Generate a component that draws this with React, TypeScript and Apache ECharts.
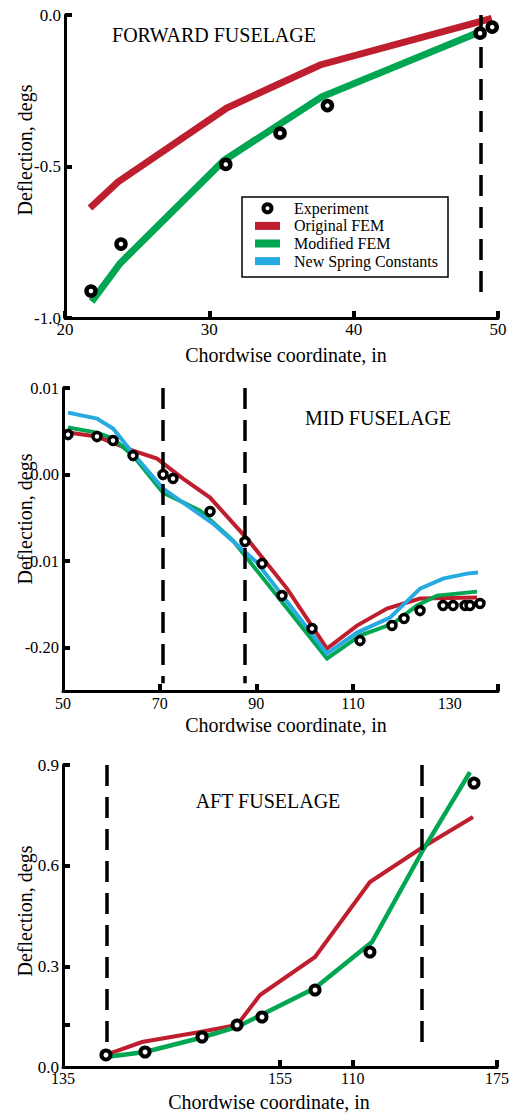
import React, { useEffect, useRef } from "react";
import * as echarts from "echarts";

const FONT = "'Liberation Serif', 'Times New Roman', serif";
const RED = "#BE1E2D";
const GREEN = "#00A651";
const BLUE = "#27AAE1";

// ---------- FORWARD FUSELAGE ----------
const fwdOriginal = [
  [21.73, -0.637], [23.67, -0.551], [31.2, -0.307], [37.67, -0.165], [49.57, -0.011],
];
const fwdModified = [
  [21.85, -0.946], [23.81, -0.82], [31.0, -0.48], [37.79, -0.27], [48.76, -0.055],
];
const fwdExperiment = [
  [21.8, -0.911], [23.88, -0.756], [31.14, -0.493], [34.9, -0.39], [38.18, -0.299], [48.76, -0.06], [49.6, -0.04],
];
const fwdDashX = [48.8];
const fwdXTicks = [20, 30, 40, 50];
const fwdYTicks = [-1.0, -0.5, 0.0];
const fwdYLabels = ["-1.0", "-0.5", "0.0"];

// ---------- MID FUSELAGE ----------
const midOriginal = [
  [51.03, 0.00485], [57.03, 0.00439], [64.48, 0.00277], [69.45, 0.00185], [74.83, -0.00046],
  [80.42, -0.00266], [88.07, -0.00739], [96.35, -0.01317], [104.62, -0.0201], [110.83, -0.01744],
  [117.04, -0.01548], [123.87, -0.01432], [135.66, -0.01421],
];
const midModified = [
  [51.03, 0.00543], [57.03, 0.00485], [60.35, 0.00416], [64.48, 0.00219], [70.69, -0.00208],
  [78.35, -0.00416], [85.17, -0.00762], [104.62, -0.02125], [111.45, -0.0186], [118.28, -0.01721],
  [123.25, -0.01513], [127.38, -0.01398], [135.66, -0.01352],
];
const midSpring = [
  [51.03, 0.00716], [57.03, 0.00647], [60.35, 0.00531], [64.48, 0.00243], [70.69, -0.00162],
  [81.04, -0.00566], [90.14, -0.01017], [104.62, -0.02068], [110.83, -0.01825], [117.66, -0.01652],
  [123.87, -0.01317], [128.63, -0.01201], [133.6, -0.01144], [135.87, -0.01132],
];
const midExperiment = [
  [51.03, 0.00462], [57.03, 0.00439], [60.35, 0.00393], [64.48, 0.00219], [70.69, 0.0],
  [72.76, -0.00046], [80.42, -0.00427], [87.66, -0.00774], [91.18, -0.01028], [95.31, -0.01398],
  [101.52, -0.01779], [111.45, -0.01918], [118.07, -0.01744], [120.56, -0.01663], [123.87, -0.01571],
  [128.63, -0.01513], [130.7, -0.01513], [133.18, -0.01513], [134.2, -0.01513], [136.28, -0.0149],
];
const midDashX = [70.7, 87.7];
const midXLabelValues = [50, 70, 90, 110, 130];
const midXTickValues = [70, 90, 110, 140];
const midYTicks = [0.01, 0.0, -0.01, -0.02];
const midYLabels = ["0.01", "0.00", "-0.01", "-0.20"];

// ---------- AFT FUSELAGE ----------
const aftOriginal = [
  [138.96, 0.0358], [142.28, 0.0745], [147.63, 0.1043], [151.04, 0.1251], [153.16, 0.2145],
  [158.23, 0.3278], [163.29, 0.5513], [168.18, 0.6555], [172.79, 0.745],
];
const aftModified = [
  [138.96, 0.0298], [142.56, 0.0447], [147.63, 0.0864], [151.04, 0.1192], [158.23, 0.2354],
  [163.48, 0.3725], [168.18, 0.6466], [172.51, 0.879],
];
const aftExperiment = [
  [138.96, 0.0358], [142.56, 0.0447], [147.81, 0.0894], [151.04, 0.1251], [153.34, 0.149],
  [158.23, 0.2294], [163.29, 0.3427], [172.88, 0.8462],
];
const aftDashX = [139.06, 168.09];
const aftXLabelValues = [135, 155, 161.7, 175];
const aftXLabels = ["135", "155", "110", "175"];
const aftXTickValues = [155, 161.7, 175];
const aftYLabelValues = [0.0, 0.3, 0.6, 0.9];
const aftYLabels = ["0.0", "0.3", "0.6", "0.9"];
const aftYTickValues = [0.125, 0.3, 0.6, 0.9];

function lookup(values: number[], labels: string[], v: number) {
  const i = values.findIndex((t) => Math.abs(t - v) < 1e-6);
  return i >= 0 ? labels[i] : "";
}

function baseAxis(fontSize: number, margin: number) {
  return {
    type: "value" as const,
    axisLine: { show: true, onZero: false, lineStyle: { color: "#000", width: 3 } },
    axisTick: { show: true, inside: true, length: 7, lineStyle: { color: "#000", width: 4 } },
    splitLine: { show: false },
    axisLabel: { color: "#000", fontFamily: FONT, fontSize, margin },
  };
}

function dashLines(xs: number[], y0: number, y1: number) {
  return {
    silent: true,
    symbol: ["none", "none"],
    label: { show: false },
    lineStyle: { color: "#000", width: 3.5, type: [21, 11] },
    data: xs.map((x) => [{ coord: [x, y0] }, { coord: [x, y1] }]),
  };
}

function lineSeries(name: string, data: number[][], color: string, width: number, idx: number, markLine?: any) {
  return {
    name,
    type: "line",
    xAxisIndex: idx,
    yAxisIndex: idx,
    data,
    showSymbol: false,
    symbol: "none",
    color,
    lineStyle: { color, width, cap: "butt", join: "miter" },
    z: 2,
    ...(markLine ? { markLine } : {}),
  };
}

function scatterSeries(data: number[][], idx: number, size: number, border: number) {
  return {
    name: "Experiment",
    type: "scatter",
    xAxisIndex: idx,
    yAxisIndex: idx,
    data,
    symbol: "circle",
    symbolSize: size,
    itemStyle: { color: "#fff", borderColor: "#000", borderWidth: border, opacity: 1 },
    z: 5,
  };
}

function text(t: string, x: number, y: number, size: number, rotate = 0) {
  return {
    type: "text",
    x,
    y,
    rotation: rotate,
    style: {
      text: t,
      font: `${size}px ${FONT}`,
      fill: "#000",
      align: "center",
      verticalAlign: "middle",
    },
  };
}

export default function App() {
  const ref = useRef<HTMLDivElement>(null);
  useEffect(() => {
    if (!ref.current) return;
    const chart = echarts.init(ref.current, undefined, { renderer: "svg" });
    const option: any = {
      animation: false,
      backgroundColor: "#fff",
      grid: [
        { left: 65, top: 15, width: 433, height: 303, outerBoundsMode: "none", containLabel: false },
        { left: 63, top: 388, width: 435, height: 303, outerBoundsMode: "none", containLabel: false },
        { left: 63, top: 765, width: 434, height: 302, outerBoundsMode: "none", containLabel: false },
      ],
      xAxis: [
        {
          ...baseAxis(17, 3),
          gridIndex: 0, min: 20, max: 50, interval: 10,
          axisLabel: { ...baseAxis(17, 3).axisLabel, customValues: fwdXTicks },
          axisTick: { ...baseAxis(17, 3).axisTick, customValues: fwdXTicks },
        },
        {
          ...baseAxis(16, 4),
          gridIndex: 1, min: 50, max: 140, interval: 10,
          axisLabel: { ...baseAxis(16, 4).axisLabel, customValues: midXLabelValues },
          axisTick: { ...baseAxis(16, 4).axisTick, customValues: midXTickValues },
        },
        {
          ...baseAxis(16, 3),
          gridIndex: 2, min: 135, max: 175,
          axisLabel: {
            ...baseAxis(16, 3).axisLabel,
            customValues: aftXLabelValues,
            formatter: (v: number) => lookup(aftXLabelValues, aftXLabels, v),
          },
          axisTick: { ...baseAxis(16, 3).axisTick, customValues: aftXTickValues },
        },
      ],
      yAxis: [
        {
          ...baseAxis(17, 4),
          gridIndex: 0, min: -1, max: 0, interval: 0.5,
          axisLabel: {
            ...baseAxis(17, 4).axisLabel,
            customValues: fwdYTicks,
            formatter: (v: number) => lookup(fwdYTicks, fwdYLabels, v),
          },
          axisTick: { ...baseAxis(17, 4).axisTick, customValues: fwdYTicks },
        },
        {
          ...baseAxis(16.5, 4),
          gridIndex: 1, min: -0.025, max: 0.01,
          axisLabel: {
            ...baseAxis(16.5, 4).axisLabel,
            customValues: midYTicks,
            formatter: (v: number) => lookup(midYTicks, midYLabels, v),
          },
          axisTick: { ...baseAxis(16.5, 4).axisTick, customValues: midYTicks },
        },
        {
          ...baseAxis(17, 4),
          gridIndex: 2, min: 0, max: 0.9,
          axisLabel: {
            ...baseAxis(17, 4).axisLabel,
            customValues: aftYLabelValues,
            formatter: (v: number) => lookup(aftYLabelValues, aftYLabels, v),
          },
          axisTick: { ...baseAxis(17, 4).axisTick, customValues: aftYTickValues },
        },
      ],
      legend: {
        show: true,
        left: 242,
        top: 197,
        orient: "vertical",
        align: "left",
        padding: [2.5, 10, 7, 13],
        itemGap: 0,
        itemWidth: 25,
        itemHeight: 8,
        borderColor: "#000",
        borderWidth: 1.5,
        borderRadius: 0,
        backgroundColor: "#fff",
        selectedMode: false,
        textStyle: { color: "#000", fontFamily: FONT, fontSize: 16, lineHeight: 17.6, padding: [0, 0, 0, 9] },
        data: [
          { name: "Experiment", icon: "circle", itemStyle: { color: "#fff", borderColor: "#000", borderWidth: 4 } },
          { name: "Original FEM", icon: "rect", itemStyle: { color: RED, borderWidth: 0 } },
          { name: "Modified FEM", icon: "rect", itemStyle: { color: GREEN, borderWidth: 0 } },
          { name: "New Spring Constants", icon: "rect", itemStyle: { color: BLUE, borderWidth: 0 } },
        ],
      },
      graphic: [
        text("FORWARD FUSELAGE", 214, 35, 20),
        text("MID FUSELAGE", 378, 418, 20),
        text("AFT FUSELAGE", 268, 801, 20),
        text("Deflection, degs", 25, 150, 20, Math.PI / 2),
        text("Deflection, degs", 25, 519, 20, Math.PI / 2),
        text("Deflection, degs", 25, 911, 20, Math.PI / 2),
        text("Chordwise coordinate, in", 286, 355, 20),
        text("Chordwise coordinate, in", 286, 725, 20),
        text("Chordwise coordinate, in", 269, 1102, 20),
      ],
      series: [
        lineSeries("Original FEM", fwdOriginal, RED, 7, 0, dashLines(fwdDashX, 0, -0.95)),
        lineSeries("Modified FEM", fwdModified, GREEN, 7, 0),
        scatterSeries(fwdExperiment, 0, 9, 4.5),

        lineSeries("Original FEM", midOriginal, RED, 4, 1, dashLines(midDashX, 0.01, -0.0241)),
        lineSeries("Modified FEM", midModified, GREEN, 4, 1),
        lineSeries("New Spring Constants", midSpring, BLUE, 4, 1),
        scatterSeries(midExperiment, 1, 8, 3.5),

        lineSeries("Original FEM", aftOriginal, RED, 4, 2, dashLines(aftDashX, 0.9, 0.045)),
        lineSeries("Modified FEM", aftModified, GREEN, 4.5, 2),
        scatterSeries(aftExperiment, 2, 9, 4),
      ],
    };
    chart.setOption(option);
    return () => chart.dispose();
  }, []);
  return (
    <div
      ref={ref}
      style={{ position: "fixed", left: 0, top: 0, width: 511, height: 1117, background: "#fff" }}
    />
  );
}
